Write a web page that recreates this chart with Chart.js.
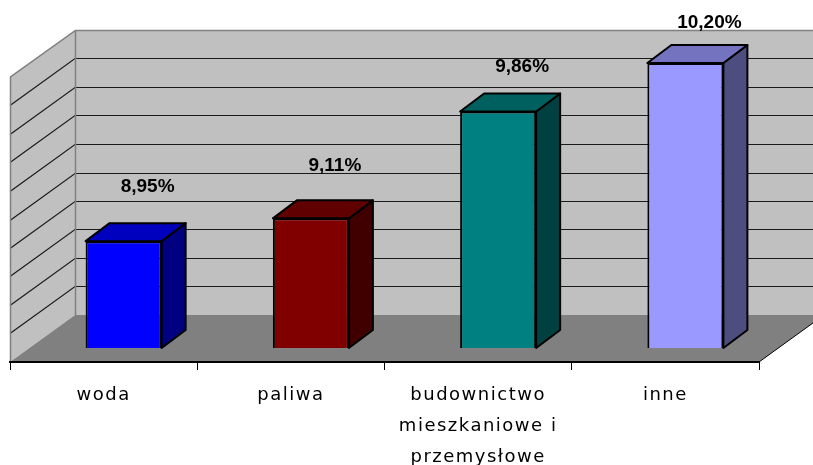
<!DOCTYPE html>
<html lang="pl">
  <head>
    <meta charset="UTF-8" />
    <title>Wykres</title>
    <script src="https://cdn.jsdelivr.net/npm/chart.js"></script>
    <style>
      html, body { margin: 0; padding: 0; background: #fff; }
      #wrap { width: 813px; height: 465px; }
    </style>
  </head>
  <body>
    <div id="wrap"><canvas id="chart"></canvas></div>
    <script>
      const categories = ["woda", "paliwa", ["budownictwo", "mieszkaniowe i", "przemysłowe"], "inne"];
      const values = [8.95, 9.11, 9.86, 10.2];
      const valueLabels = ["8,95%", "9,11%", "9,86%", "10,20%"];
      const frontColors = ["#0000ff", "#800000", "#008080", "#9999ff"];
      const topColors = ["#0000bf", "#600000", "#006060", "#7373bf"];
      const sideColors = ["#000080", "#400000", "#004040", "#4d4d80"];
      const axisMin = 8.2;
      const axisMax = 10.2;
      const axisStep = 0.2;

      // 3d look: wall depth, bar position inside the depth, bar thickness
      const depth = { x: 65, y: -47 };
      const barShift = { x: 20, y: -14 };
      const barDepth = { x: 24, y: -18 };

      function poly(ctx, pts) {
        ctx.beginPath();
        ctx.moveTo(pts[0][0], pts[0][1]);
        for (let i = 1; i < pts.length; i++) ctx.lineTo(pts[i][0], pts[i][1]);
        ctx.closePath();
      }

      const walls = {
        id: "walls",
        beforeDraw(chart) {
          const ctx = chart.ctx;
          const a = chart.chartArea;
          const y = chart.scales.y;
          const dx = depth.x, dy = depth.y;
          ctx.save();
          // back wall
          ctx.fillStyle = "#c0c0c0";
          ctx.fillRect(a.left + dx, a.top + dy, a.right - a.left, a.bottom - a.top);
          // left wall
          poly(ctx, [[a.left, a.bottom], [a.left, a.top], [a.left + dx, a.top + dy], [a.left + dx, a.bottom + dy]]);
          ctx.fill();
          // gridlines
          ctx.strokeStyle = "#1a1a1a";
          ctx.lineWidth = 1.2;
          y.ticks.forEach((t) => {
            if (t.value <= axisMin + 0.001 || t.value >= axisMax - 0.001) return;
            const py = Math.round(y.getPixelForValue(t.value)) + 0.5;
            ctx.beginPath();
            ctx.moveTo(a.left, py);
            ctx.lineTo(a.left + dx, py + dy);
            ctx.lineTo(a.right + dx, py + dy);
            ctx.stroke();
          });
          // wall edges
          ctx.strokeStyle = "#808080";
          ctx.lineWidth = 1.5;
          ctx.beginPath();
          ctx.moveTo(a.left + 0.5, a.bottom);
          ctx.lineTo(a.left + 0.5, a.top);
          ctx.lineTo(a.left + dx + 0.5, a.top + dy + 0.5);
          ctx.lineTo(a.right + dx, a.top + dy + 0.5);
          ctx.moveTo(a.left + dx + 0.5, a.top + dy);
          ctx.lineTo(a.left + dx + 0.5, a.bottom + dy);
          ctx.stroke();
          // floor
          ctx.fillStyle = "#808080";
          poly(ctx, [[a.left, a.bottom], [a.right, a.bottom], [a.right + dx, a.bottom + dy], [a.left + dx, a.bottom + dy]]);
          ctx.fill();
          ctx.strokeStyle = "#000";
          ctx.lineWidth = 1;
          ctx.beginPath();
          ctx.moveTo(a.right, a.bottom);
          ctx.lineTo(a.right + dx, a.bottom + dy);
          ctx.stroke();
          ctx.restore();
          ctx.letterSpacing = "1.5px";
        },
        beforeDatasetsDraw(chart) {
          chart.ctx.letterSpacing = "0px";
        },
        beforeDatasetDraw(chart) {
          chart.ctx.save();
          chart.ctx.translate(barShift.x, barShift.y);
        },
        afterDatasetDraw(chart, args) {
          const ctx = chart.ctx;
          const meta = args.meta;
          ctx.lineWidth = 2;
          ctx.strokeStyle = "#000";
          ctx.lineJoin = "round";
          meta.data.forEach((el, i) => {
            const p = el.getProps(["x", "y", "base", "width"], true);
            const l = p.x - p.width / 2, r = p.x + p.width / 2;
            const t = p.y, b = p.base;
            const bx = barDepth.x, by = barDepth.y;
            ctx.fillStyle = sideColors[i];
            poly(ctx, [[r, t], [r + bx, t + by], [r + bx, b + by], [r, b]]);
            ctx.fill();
            ctx.stroke();
            ctx.fillStyle = topColors[i];
            poly(ctx, [[l, t], [l + bx, t + by], [r + bx, t + by], [r, t]]);
            ctx.fill();
            ctx.stroke();
            ctx.fillStyle = "#000";
            ctx.font = "bold 19px 'Liberation Sans'";
            ctx.textAlign = "center";
            ctx.textBaseline = "middle";
            ctx.fillText(valueLabels[i], p.x + 24, t - (62 - 0.075 * (b - t)));
          });
          ctx.restore();
        },
      };

      new Chart(document.getElementById("chart"), {
        type: "bar",
        data: {
          labels: categories,
          datasets: [
            {
              data: values,
              base: axisMin,
              backgroundColor: frontColors,
              borderColor: "#000",
              borderWidth: 2,
              barPercentage: 0.406,
              categoryPercentage: 1,
              clip: false,
            },
          ],
        },
        options: {
          responsive: true,
          maintainAspectRatio: false,
          animation: false,
          devicePixelRatio: 1,
          layout: { padding: { left: 10, right: 54, top: 77, bottom: 0 } },
          plugins: { legend: { display: false }, tooltip: { enabled: false } },
          scales: {
            y: {
              display: false,
              min: axisMin,
              max: axisMax,
              ticks: { stepSize: axisStep },
            },
            x: {
              grid: { drawOnChartArea: false, drawTicks: true, tickLength: 8, color: "#000", offset: true },
              border: { display: true, color: "#000", width: 2 },
              ticks: {
                color: "#000",
                font: { family: "DejaVu Sans", size: 18, lineHeight: 1.72 },
                padding: 10,
                maxRotation: 0,
                autoSkip: false,
              },
              afterFit(s) {
                s.height = 103;
              },
            },
          },
        },
        plugins: [walls],
      });
    </script>
  </body>
</html>
